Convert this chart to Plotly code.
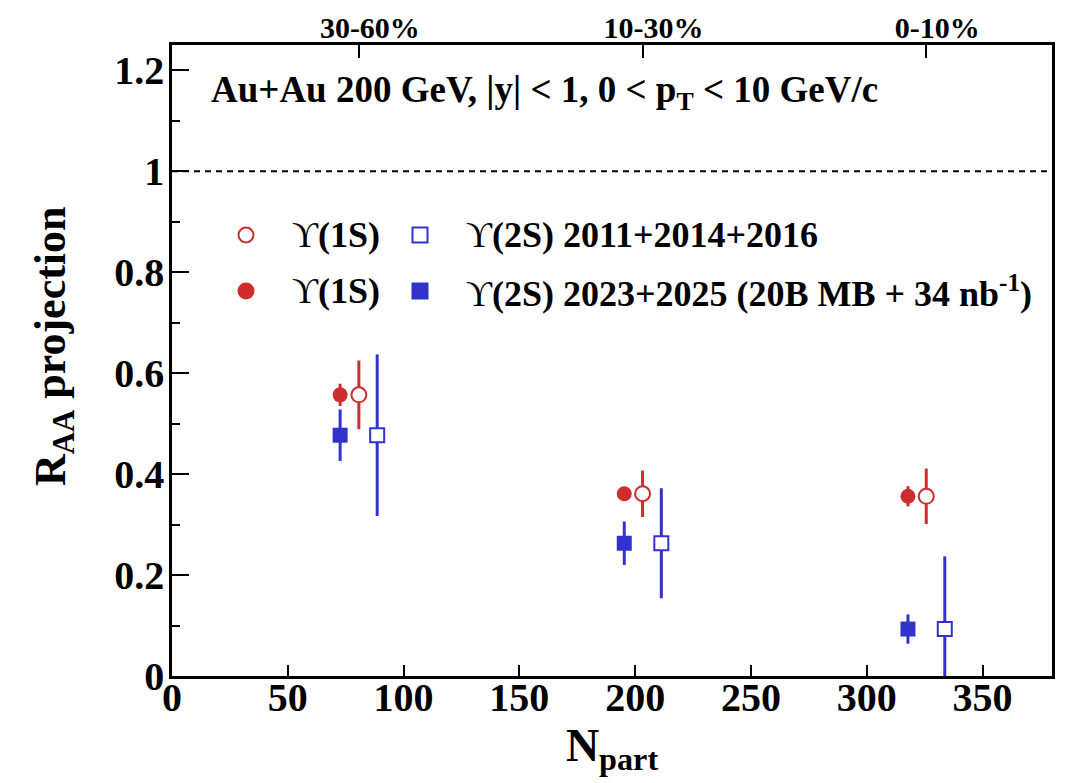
import plotly.graph_objects as go

# ---------------- data ----------------
cent_labels = ["30-60%", "10-30%", "0-10%"]
cent_npart = [80.7, 203.2, 325.7]

npart_1s_old = [80.7, 203.2, 325.7]
raa_1s_old = [0.557, 0.361, 0.356]
err_1s_old = [0.068, 0.046, 0.055]

npart_2s_old = [88.6, 211.3, 333.7]
raa_2s_old = [0.477, 0.263, 0.093]
err_2s_old = [0.160, 0.109, 0.144]

npart_1s_new = [72.6, 195.3, 317.8]
raa_1s_new = [0.557, 0.361, 0.356]
err_1s_new = [0.022, 0.010, 0.020]

npart_2s_new = [72.6, 195.3, 317.8]
raa_2s_new = [0.477, 0.263, 0.093]
err_2s_new = [0.051, 0.043, 0.029]

UPS = '<span style="font-weight:normal">ϒ</span>'
legend_labels = [UPS + "(1S)", UPS + "(2S) 2011+2014+2016",
                 UPS + "(1S)", UPS + "(2S) 2023+2025 (20B MB + 34 nb<sup>-1</sup>)"]

ref_value = 1.0

# ---------------- style ----------------
RED = "rgb(205,45,45)"
BLUE = "rgb(50,50,205)"
FONT = "Liberation Serif"
OFF = 8                       # page body margin
W, H = 1066 - OFF, 783 - OFF
ML, MT = 164, 37
PW, PH = 880, 631
MR, MB = W - ML - PW, H - MT - PH


def sx(p):  # screen pixel -> paper x
    return (p - OFF - ML) / PW


def sy(p):  # screen pixel -> paper y
    return (MT + PH - (p - OFF)) / PH


fig = go.Figure()

fig.add_trace(go.Scatter(
    x=npart_1s_old, y=raa_1s_old, mode="markers", name="ϒ(1S) 2011+2014+2016",
    error_y=dict(type="data", array=err_1s_old, color=RED, thickness=3, width=0),
    marker=dict(symbol="circle", size=15, color="white", line=dict(color=RED, width=2)),
    showlegend=False,
))
fig.add_trace(go.Scatter(
    x=npart_2s_old, y=raa_2s_old, mode="markers", name="ϒ(2S) 2011+2014+2016",
    error_y=dict(type="data", array=err_2s_old, color=BLUE, thickness=3, width=0),
    marker=dict(symbol="square", size=14, color="white", line=dict(color=BLUE, width=2)),
    showlegend=False,
))
fig.add_trace(go.Scatter(
    x=npart_1s_new, y=raa_1s_new, mode="markers", name="ϒ(1S) 2023+2025",
    error_y=dict(type="data", array=err_1s_new, color=RED, thickness=3, width=0),
    marker=dict(symbol="circle", size=15, color=RED, line=dict(width=0)),
    showlegend=False,
))
fig.add_trace(go.Scatter(
    x=npart_2s_new, y=raa_2s_new, mode="markers", name="ϒ(2S) 2023+2025",
    error_y=dict(type="data", array=err_2s_new, color=BLUE, thickness=3, width=0),
    marker=dict(symbol="square", size=15, color=BLUE, line=dict(width=0)),
    showlegend=False,
))
# invisible trace that anchors the top (centrality) axis
fig.add_trace(go.Scatter(
    x=cent_npart, y=[None] * len(cent_npart), xaxis="x2", yaxis="y",
    mode="markers", marker=dict(opacity=0), showlegend=False, hoverinfo="skip",
))

fig.update_layout(
    width=W, height=H,
    margin=dict(l=ML, r=MR, t=MT, b=MB, pad=0),
    plot_bgcolor="white", paper_bgcolor="white",
    font=dict(family=FONT, color="black"),
    showlegend=False,
    xaxis=dict(
        range=[0, 380], showgrid=False, zeroline=False, automargin=False,
        showline=True, linecolor="black", linewidth=2.5, mirror=True,
        ticks="inside", ticklen=11, tickwidth=1.5, tickcolor="black",
        tickvals=[0, 50, 100, 150, 200, 250, 300, 350],
        ticklabelstandoff=-16,
        tickfont=dict(family=FONT, size=40, weight="bold"),
        title=dict(text="N<sub>part</sub>", font=dict(family=FONT, size=46, weight="bold"),
                   standoff=7),
    ),
    xaxis2=dict(
        range=[0, 380], overlaying="x", side="top", anchor="y", automargin=False,
        showgrid=False, zeroline=False, showline=False,
        ticks="inside", ticklen=13, tickwidth=1.5, tickcolor="black",
        tickvals=cent_npart, ticktext=cent_labels, ticklabelshift=11,
        tickfont=dict(family=FONT, size=30, weight="bold"),
    ),
    yaxis=dict(
        range=[0, 1.25], showgrid=False, zeroline=False, automargin=False,
        showline=True, linecolor="black", linewidth=2.5, mirror=True,
        ticks="inside", ticklen=17, tickwidth=1.5, tickcolor="black",
        dtick=0.2, tick0=0,
        ticklabelstandoff=-3,
        minor=dict(dtick=0.1, ticks="inside", ticklen=8, tickwidth=1.5, tickcolor="black"),
        tickfont=dict(family=FONT, size=40, weight="bold"),
    ),
)

fig.add_hline(y=ref_value, line=dict(color="black", width=2, dash="6px,5px"))

# y-axis title placed as rotated text so it sits where the reference has it
fig.add_annotation(
    text="R<sub>AA</sub> projection", textangle=-90,
    xref="paper", yref="paper", x=sx(53), y=sy(346),
    xanchor="center", yanchor="middle", showarrow=False,
    font=dict(family=FONT, size=44, color="black", weight="bold"),
)

# ---------------- hand-made two-row legend ----------------
row_y = [sy(235), sy(291)]
key_x = [sx(246), sx(420)]
text_x = [sx(290), sx(464)]
key_styles = [
    ("circle", "white", RED), ("rect", "white", BLUE),
    ("circle", RED, RED), ("rect", BLUE, BLUE),
]
for i, (kind, fillc, linec) in enumerate(key_styles):
    r, c = divmod(i, 2)
    half = 7.5
    fig.add_shape(
        type=kind, xref="paper", yref="paper",
        xsizemode="pixel", ysizemode="pixel",
        xanchor=key_x[c], yanchor=row_y[r],
        x0=-half, x1=half, y0=-half, y1=half,
        fillcolor=fillc, line=dict(color=linec, width=2),
    )
    fig.add_annotation(
        text=legend_labels[i], xref="paper", yref="paper",
        x=text_x[c], y=row_y[r], xanchor="left", yanchor="middle",
        showarrow=False,
        font=dict(family=FONT, size=36, color="black", weight="bold"),
    )

fig.add_annotation(
    text="Au+Au 200 GeV, |y| < 1, 0 < p<sub>T</sub> < 10 GeV/c",
    xref="paper", yref="paper", x=sx(209), y=sy(93),
    xanchor="left", yanchor="middle", showarrow=False,
    font=dict(family=FONT, size=37, color="black", weight="bold"),
)

fig.write_html("out.html")
